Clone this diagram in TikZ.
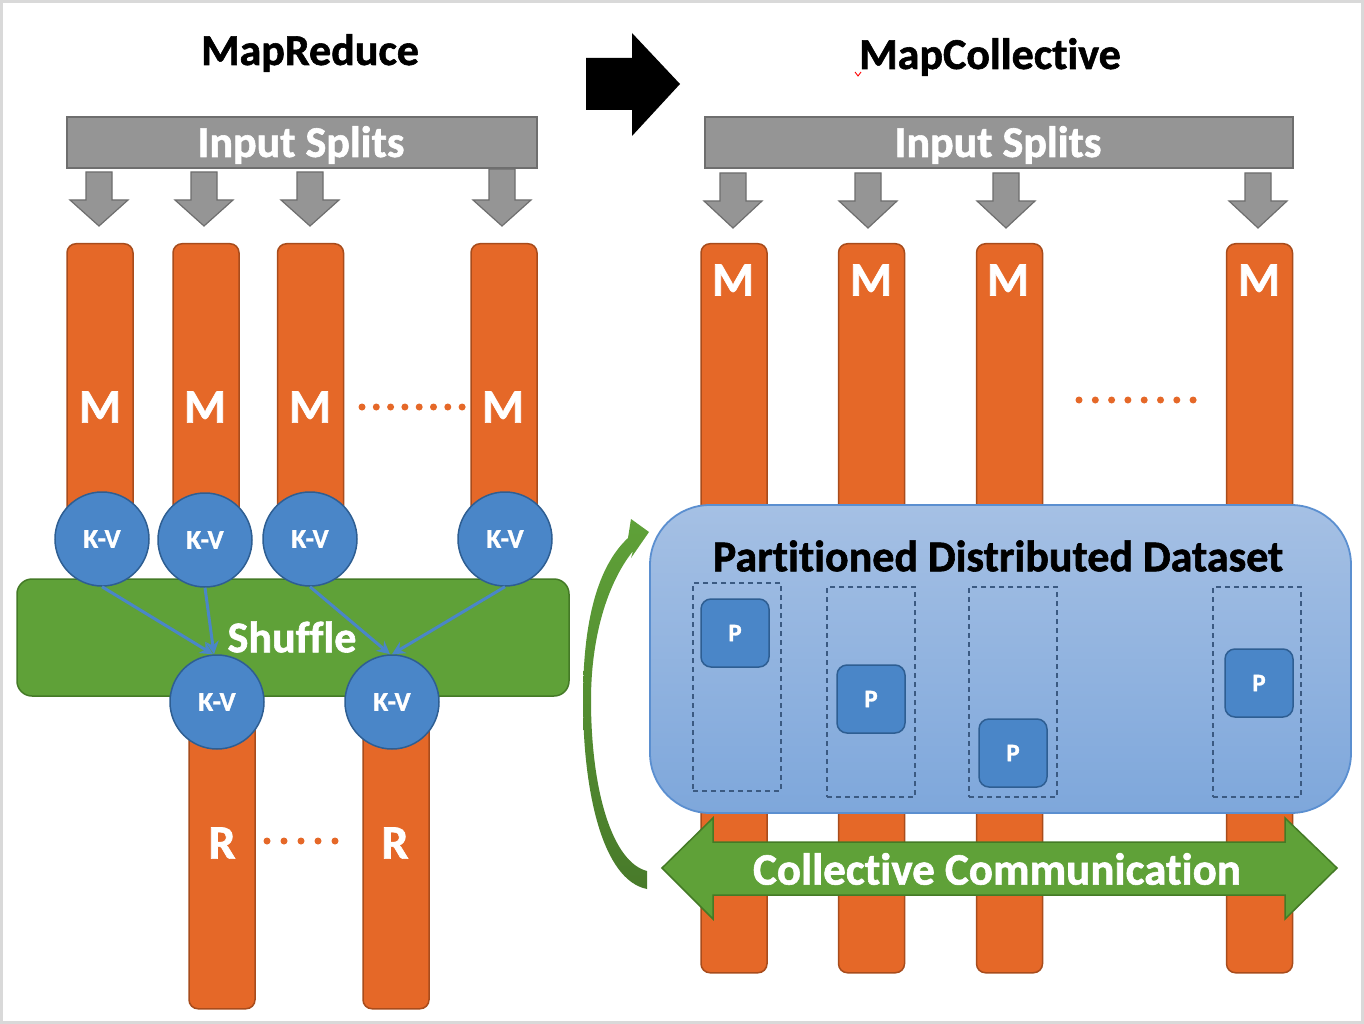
\documentclass[tikz,border=0pt]{standalone}
\usepackage{fontspec}
\setmainfont{Carlito}[BoldFeatures={FakeBold=1.3}]
\usetikzlibrary{arrows.meta}
\newcommand\nolig{\kern0pt\relax}
\definecolor{orangeF}{HTML}{E56828}
\definecolor{orangeD}{HTML}{A84C1C}
\definecolor{grayF}{HTML}{959595}
\definecolor{grayD}{HTML}{6E6E6E}
\definecolor{blueF}{HTML}{4A86C8}
\definecolor{blueD}{HTML}{2E5E92}
\definecolor{greenF}{HTML}{5FA138}
\definecolor{greenD}{HTML}{447A26}
\definecolor{greenDark}{HTML}{487A2A}
\definecolor{pddTop}{HTML}{A5C0E4}
\definecolor{pddBot}{HTML}{7EA7DB}
\definecolor{pddD}{HTML}{5B8FD0}
\definecolor{dashD}{HTML}{3B5A82}
\definecolor{frameC}{HTML}{D9D9D9}
\tikzset{
  bigtxt/.style={font=\fontsize{44}{48}\selectfont\bfseries},
  bar/.style={draw=orangeD, fill=orangeF, line width=1.5pt, rounded corners=9pt, minimum width=66pt, anchor=north, inner sep=0pt},
  mlbl/.style={text=white, font=\fontsize{48}{52}\selectfont\bfseries, inner sep=0pt},
  kv/.style={circle, draw=blueD, fill=blueF, line width=1.5pt, minimum size=94pt, inner sep=0pt, text=white, font=\fontsize{27}{28}\selectfont\bfseries},
  splitbox/.style={draw=grayD, fill=grayF, line width=1.5pt, inner sep=0pt, text=white, bigtxt},
  grayarr/.style={draw=grayD, fill=grayF, line width=1.2pt},
  shufarr/.style={draw=blueF, line width=3pt, -{Stealth[length=13pt, width=13pt]}},
  pbox/.style={draw=blueD, fill=blueF, line width=1.5pt, rounded corners=10pt, minimum width=68pt, minimum height=68pt, inner sep=0pt, text=white, font=\fontsize{25}{26}\selectfont\bfseries},
  dbox/.style={draw=dashD, line width=1.2pt, dash pattern=on 5pt off 4pt, minimum width=88pt, inner sep=0pt},
  dot/.style={fill=orangeF}
}
\begin{document}
\begin{tikzpicture}[x=1pt, y=-1pt]
\useasboundingbox (0,0) rectangle (1364,1024);
\fill[white] (0,0) rectangle (1364,1024);
\draw[frameC, line width=3pt] (1.5,1.5) rectangle (1362.5,1022.5);

% ---------- titles ----------
\node[bigtxt] (t1) at (310,53) {MapReduce};
\node[bigtxt] (t2) at (990,57) {MapCollect\nolig ive};
\draw[red, line width=0.9pt] (855,72) -- (858,76) -- (861,72);
\fill[black] (586,58) -- (632,58) -- (632,33) -- (680,84) -- (632,136) -- (632,110) -- (586,110) -- cycle;

% ---------- left: MapReduce ----------
\node[splitbox, minimum width=470pt, minimum height=51pt] (isl) at (302,142.5) {};
\node[text=white, bigtxt] (islt) at (301,145) {Input Splits};
\foreach \x/\y in {99/172, 204/172, 310/172, 502/169}{
  \draw[grayarr] ({\x-13},\y) -- ({\x+13},\y) -- ({\x+13},200) -- ({\x+29},200) -- (\x,226) -- ({\x-29},200) -- ({\x-13},200) -- cycle;
}
\node[bar, minimum height=280pt] (bm1) at (100,243) {};
\node[bar, minimum height=280pt] (bm2) at (206,243) {};
\node[bar, minimum height=280pt] (bm3) at (310.5,243) {};
\node[bar, minimum height=280pt] (bm4) at (504,243) {};
\node[mlbl] (lm1) at (100,407) {M};
\node[mlbl] (lm2) at (205,407) {M};
\node[mlbl] (lm3) at (310,407) {M};
\node[mlbl] (lm4) at (503,407) {M};
\foreach \i in {0,...,7}{\fill[dot] ({362+\i*14.3},407) circle (3.5);}

% reducers
\node[bar, minimum height=310pt] (br1) at (222,698) {};
\node[bar, minimum height=310pt] (br2) at (396,698) {};
\node[mlbl] (lr1) at (222,843) {R};
\node[mlbl] (lr2) at (395,843) {R};
\foreach \i in {0,...,4}{\fill[dot] ({267+\i*17},841) circle (3.5);}

% shuffle
\node[draw=greenD, fill=greenF, line width=1.5pt, rounded corners=15pt, minimum width=552pt, minimum height=117pt, inner sep=0pt] (shuf) at (293,637.5) {};
\node[text=white, bigtxt] (shuft) at (292,637) {Shuf\nolig f\nolig le};

\node[kv] (kv1) at (102,539) {K-V};
\node[kv] (kv2) at (205,540) {K-V};
\node[kv] (kv3) at (310,539) {K-V};
\node[kv] (kv4) at (505,539) {K-V};
\node[kv] (kv5) at (217,702) {K-V};
\node[kv] (kv6) at (392,702) {K-V};
\draw[shufarr] (kv1.south) -- ([xshift=-4pt]kv5.north);
\draw[shufarr] (kv2.south) -- ([xshift=-3pt]kv5.north);
\draw[shufarr] (kv3.south) -- ([xshift=-2pt]kv6.north);
\draw[shufarr] (kv4.south) -- (kv6.north);

% ---------- right: MapCollective ----------
\node[splitbox, minimum width=588pt, minimum height=51pt] (isr) at (999,142.5) {};
\node[text=white, bigtxt] (isrt) at (998,145) {Input Splits};
\foreach \x in {733, 868, 1006, 1258}{
  \draw[grayarr] ({\x-13},173) -- ({\x+13},173) -- ({\x+13},201) -- ({\x+29},201) -- (\x,228) -- ({\x-29},201) -- ({\x-13},201) -- cycle;
}
\node[bar, minimum height=729pt] (cm1) at (734,243) {};
\node[bar, minimum height=729pt] (cm2) at (871.5,243) {};
\node[bar, minimum height=729pt] (cm3) at (1009.5,243) {};
\node[bar, minimum height=729pt] (cm4) at (1259.5,243) {};
\node[mlbl] (rm1) at (733,280) {M};
\node[mlbl] (rm2) at (871,280) {M};
\node[mlbl] (rm3) at (1008,280) {M};
\node[mlbl] (rm4) at (1259,280) {M};
\foreach \i in {0,...,7}{\fill[dot] ({1079+\i*16.3},400) circle (3.5);}

% partitioned distributed dataset
\node[draw=pddD, line width=1.8pt, top color=pddTop, bottom color=pddBot, rounded corners=60pt, minimum width=701pt, minimum height=308pt, inner sep=0pt] (pdd) at (1000.5,659) {};
\node[bigtxt] (pddt) at (998,556) {Part\nolig it\nolig ioned Distributed Dataset};
\node[dbox, minimum height=208pt] (d1) at (737,687) {};
\node[dbox, minimum height=210pt] (d2) at (871,692) {};
\node[dbox, minimum height=210pt] (d3) at (1013,692) {};
\node[dbox, minimum height=210pt] (d4) at (1257,692) {};
\node[pbox] (p1) at (735,633) {P};
\node[pbox] (p2) at (871,699) {P};
\node[pbox] (p3) at (1013,753) {P};
\node[pbox] (p4) at (1259,683) {P};

% collective communication double arrow
\draw[draw=greenD, fill=greenF, line width=1.5pt] (662,868) -- (713,818) -- (713,842) -- (1285,842) -- (1285,818) -- (1337,868) -- (1285,919) -- (1285,895) -- (713,895) -- (713,919) -- cycle;
\node[text=white, font=\fontsize{45}{48}\selectfont\bfseries] (cc) at (997,869) {Collect\nolig ive Communicat\nolig ion};

% curved feedback arrow
\shade[top color=greenF, bottom color=greenDark]
  (647,889) .. controls (602,880) and (583,790) .. (583,700)
  .. controls (583,620) and (598,566) .. (628,538)
  -- (631,519) -- (649,532) -- (631,558) -- (633,551)
  .. controls (606,585) and (591,640) .. (591,700)
  .. controls (591,790) and (612,862) .. (647,871) -- cycle;
\end{tikzpicture}
\end{document}
